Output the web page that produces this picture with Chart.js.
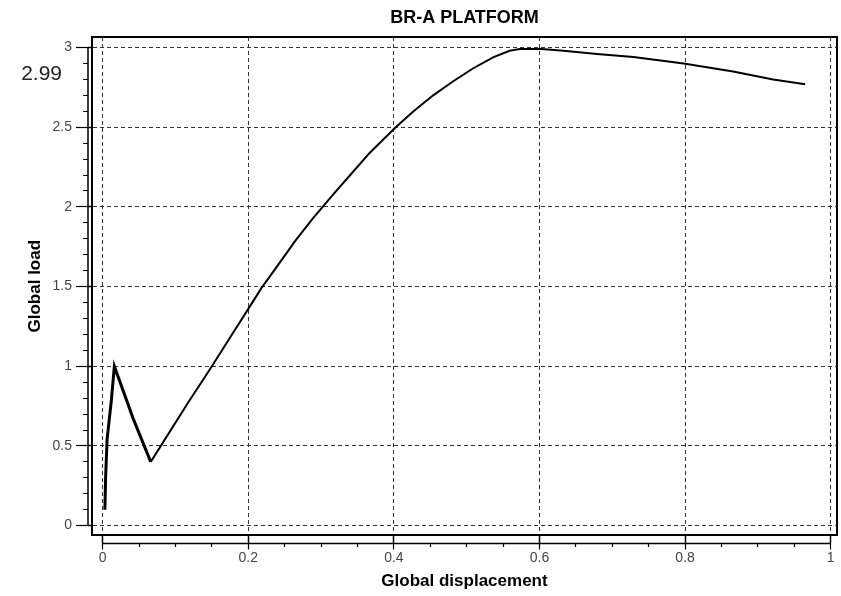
<!DOCTYPE html>
<html><head><meta charset="utf-8">
<script src="https://cdn.jsdelivr.net/npm/chart.js@4/dist/chart.umd.min.js"></script>
<style>html,body{margin:0;padding:0;background:#fff}#wrap{width:841px;height:596px}</style>
</head><body><div id="wrap"><canvas id="c" width="841" height="596"></canvas></div>
<script>
// ---- data ----
const chartTitle = 'BR-A PLATFORM';
const xTitle = 'Global displacement';
const yTitle = 'Global load';
const peakLabel = '2.99';
const peakLabelAt = 2.83;

const displacement = [0.003, 0.004, 0.006, 0.012, 0.016, 0.042, 0.066, 0.117, 0.150, 0.175, 0.200, 0.218, 0.240, 0.265, 0.289, 0.317, 0.340, 0.367, 0.4025, 0.427, 0.454, 0.482, 0.509, 0.537, 0.559, 0.573, 0.603, 0.633, 0.679, 0.729, 0.798, 0.866, 0.921, 0.965];
const load         = [0.10, 0.30, 0.54, 0.79, 1.00, 0.67, 0.40, 0.77, 1.00, 1.18, 1.36, 1.49, 1.63, 1.79, 1.93, 2.08, 2.20, 2.34, 2.50, 2.60, 2.70, 2.79, 2.87, 2.94, 2.98, 2.99, 2.99, 2.98, 2.96, 2.94, 2.90, 2.85, 2.80, 2.77];

const xMajorTicks = [0, 0.2, 0.4, 0.6, 0.8, 1];
const xTickLabels = ['0', '0.2', '0.4', '0.6', '0.8', '1'];
const xMinorStep = 0.05;
const yMajorTicks = [0, 0.5, 1, 1.5, 2, 2.5, 3];
const yTickLabels = ['0', '0.5', '1', '1.5', '2', '2.5', '3'];
const yMinorStep = 0.1;
const xRange = [-0.0147, 1.0087];
const yRange = [-0.0613, 3.066];

// ---- helpers ----
const FONT = '"Liberation Sans", Arial, sans-serif';
const near = (a, b) => Math.abs(a - b) < 1e-6;
const idxOf = (arr, v) => arr.findIndex(t => near(t, v));
function minorTicks(lo, hi, step) {
  const out = [];
  const n = Math.round((hi - lo) / step);
  for (let i = 0; i <= n; i++) out.push({ value: Math.round((lo + i * step) * 1e6) / 1e6 });
  return out;
}

const axisLines = {
  id: 'axisLines',
  afterDraw(chart) {
    const { ctx } = chart;
    const xs = chart.scales.xAxis, ys = chart.scales.yAxis;
    ctx.save();
    ctx.strokeStyle = '#000';
    ctx.lineWidth = 1.5;
    ctx.beginPath();
    ctx.moveTo(xs.getPixelForValue(xMajorTicks[0]), xs.top);
    ctx.lineTo(xs.getPixelForValue(xMajorTicks[xMajorTicks.length - 1]), xs.top);
    ctx.moveTo(ys.right, ys.getPixelForValue(yMajorTicks[0]));
    ctx.lineTo(ys.right, ys.getPixelForValue(yMajorTicks[yMajorTicks.length - 1]));
    ctx.stroke();
    ctx.restore();
  }
};
const peakText = {
  id: 'peakText',
  afterDraw(chart) {
    const { ctx } = chart;
    const ys = chart.scales.yAxis;
    ctx.save();
    ctx.font = '21px ' + FONT;
    ctx.fillStyle = '#222';
    ctx.textAlign = 'right';
    ctx.textBaseline = 'middle';
    ctx.fillText(peakLabel, ys.right - 26, ys.getPixelForValue(peakLabelAt));
    ctx.restore();
  }
};

new Chart(document.getElementById('c'), {
  type: 'scatter',
  data: {
    datasets: [{
      data: displacement.map((x, i) => ({ x, y: load[i] })),
      showLine: true,
      borderColor: '#000',
      borderWidth: 2,
      segment: { borderWidth: c => (c.p0DataIndex < 6 ? 3 : 2) },
      pointRadius: 0,
      tension: 0,
      fill: false
    }]
  },
  options: {
    responsive: false,
    animation: false,
    devicePixelRatio: 1,
    layout: { padding: { left: 0, right: 4, top: 0, bottom: 0 } },
    plugins: { legend: { display: false }, tooltip: { enabled: false }, title: { display: false } },
    scales: {
      x: {
        type: 'linear', position: 'bottom', weight: 0, min: xRange[0], max: xRange[1],
        afterBuildTicks: s => { s.ticks = xMajorTicks.map(v => ({ value: v })); },
        ticks: { display: false },
        grid: { display: true, color: '#333', lineWidth: 1, drawTicks: true, tickLength: 8, tickColor: '#000', tickWidth: 1.5 },
        border: { display: true, color: '#000', width: 2, dash: [4, 3] },
        afterFit: s => { s.height = 8; }
      },
      xAxis: {
        type: 'linear', position: 'bottom', weight: 1, min: xRange[0], max: xRange[1],
        afterBuildTicks: s => { s.ticks = minorTicks(xMajorTicks[0], xMajorTicks[xMajorTicks.length - 1], xMinorStep); },
        ticks: {
          display: true, autoSkip: false, maxRotation: 0, minRotation: 0, padding: 0,
          color: '#444', font: { family: FONT, size: 14 },
          callback: v => { const i = idxOf(xMajorTicks, v); return i >= 0 ? xTickLabels[i] : ''; }
        },
        grid: {
          display: true, drawOnChartArea: false, drawTicks: true, tickLength: 6, tickColor: '#000', tickWidth: 1.2,
          tickBorderDash: c => (c.tick && idxOf(xMajorTicks, c.tick.value) >= 0) ? [] : [4, 100]
        },
        border: { display: false },
        title: { display: true, text: xTitle, color: '#000', font: { family: FONT, size: 17, weight: 'bold' }, padding: { top: 2, bottom: 4.4 } },
        afterFit: s => { s.height = 52.6; }
      },
      xTop: {
        type: 'linear', position: 'top', min: xRange[0], max: xRange[1],
        ticks: { display: false },
        grid: { display: false, drawTicks: false },
        border: { display: true, color: '#000', width: 2 },
        title: { display: true, text: chartTitle, color: '#000', font: { family: FONT, size: 18, weight: 'bold' }, padding: { top: 7.2, bottom: 8.2 } },
        afterFit: s => { s.height = 37; }
      },
      y: {
        type: 'linear', position: 'left', weight: 0, min: yRange[0], max: yRange[1],
        afterBuildTicks: s => { s.ticks = yMajorTicks.map(v => ({ value: v })); },
        ticks: { display: false },
        grid: { display: true, color: '#333', lineWidth: 1, drawTicks: true, tickLength: 4, tickColor: '#000', tickWidth: 1.5 },
        border: { display: true, color: '#000', width: 2, dash: [4, 3] },
        afterFit: s => { s.width = 4; }
      },
      yAxis: {
        type: 'linear', position: 'left', weight: 1, min: yRange[0], max: yRange[1],
        afterBuildTicks: s => { s.ticks = minorTicks(yMajorTicks[0], yMajorTicks[yMajorTicks.length - 1], yMinorStep); },
        ticks: {
          display: true, autoSkip: false, padding: 4,
          color: '#444', font: { family: FONT, size: 14 },
          callback: v => { const i = idxOf(yMajorTicks, v); return i >= 0 ? yTickLabels[i] : ''; }
        },
        grid: {
          display: true, drawOnChartArea: false, drawTicks: true, tickLength: 12, tickColor: '#000', tickWidth: 1.2,
          tickBorderDash: c => (c.tick && idxOf(yMajorTicks, c.tick.value) >= 0) ? [] : [0, 7, 5, 100]
        },
        border: { display: false },
        title: { display: true, text: yTitle, color: '#000', font: { family: FONT, size: 17, weight: 'bold' }, padding: { top: 24.8, bottom: 6 } },
        afterFit: s => { s.width = 88; }
      },
      yRight: {
        type: 'linear', position: 'right', min: yRange[0], max: yRange[1],
        ticks: { display: false },
        grid: { display: false, drawTicks: false },
        border: { display: true, color: '#000', width: 2 },
        afterFit: s => { s.width = 0; }
      }
    }
  },
  plugins: [axisLines, peakText]
});
</script>
</body></html>
